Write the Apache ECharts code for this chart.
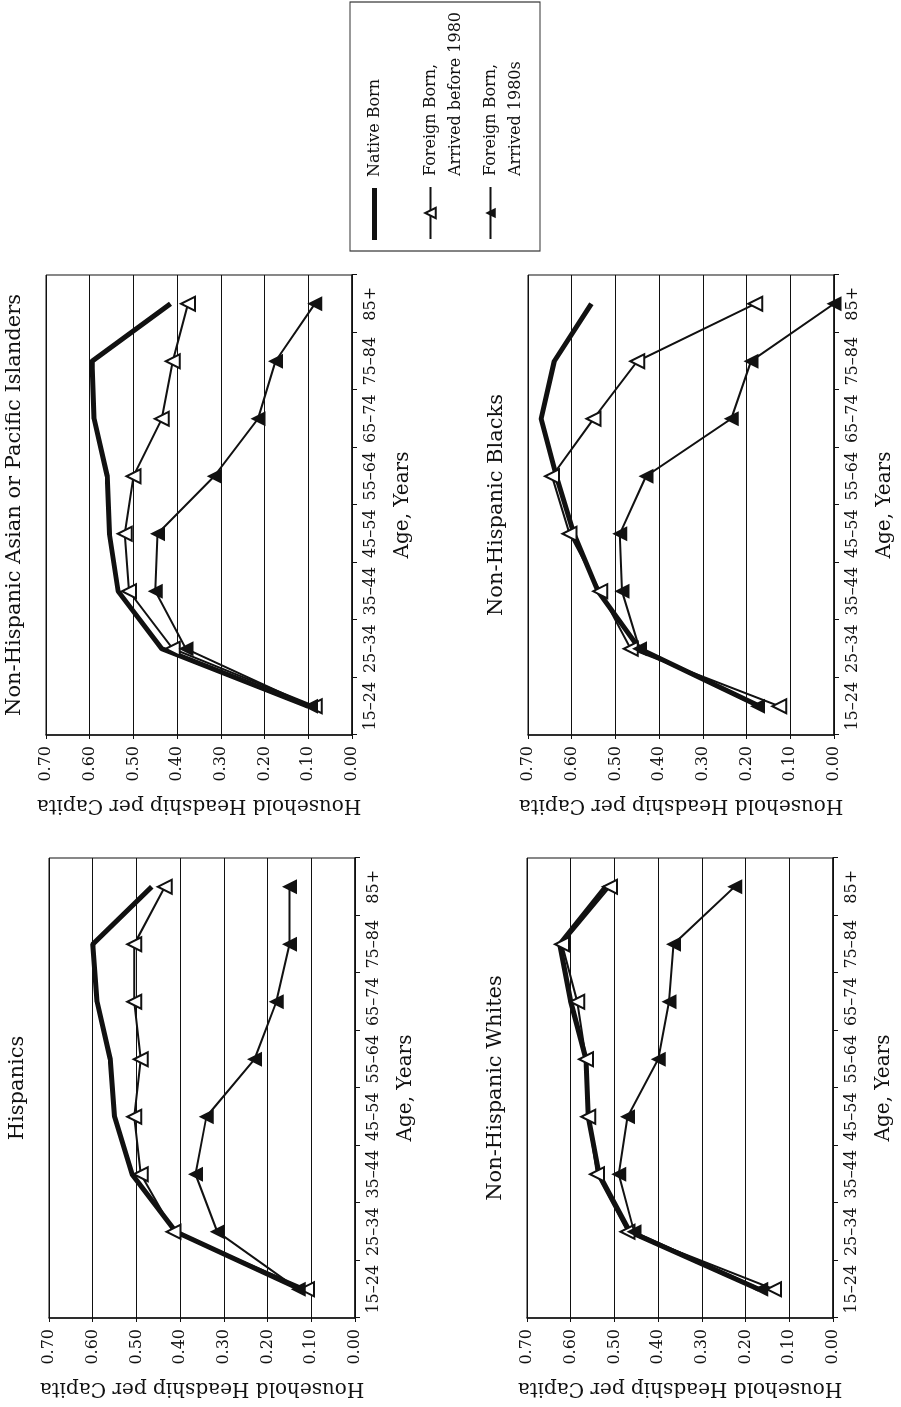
<!DOCTYPE html>
<html>
<head>
<meta charset="utf-8">
<title>Household Headship per Capita by Age</title>
<script src="https://cdn.jsdelivr.net/npm/echarts@6/dist/echarts.min.js"></script>
<style>
    html, body { margin: 0; padding: 0; background: #fff; overflow: hidden; }
    /* the page is printed sideways: draw it upright, then turn it a quarter left */
    #chart {
        position: absolute; left: 0; top: 0;
        width: 1407px; height: 901px;
        transform-origin: 0 0;
        transform: translate(0, 1407px) rotate(-90deg);
    }
</style>
</head>
<body>
<div id="chart"></div>
<script>
var ageGroups = ["15–24", "25–34", "35–44", "45–54", "55–64", "65–74", "75–84", "85+"];
var headshipMin = 0, headshipMax = 0.7, headshipStep = 0.1;

var nativeName = "Native Born";
var before1980Name = "Foreign Born,\nArrived before 1980";
var arrived1980sName = "Foreign Born,\nArrived 1980s";

var hispanicsNative = [0.125, 0.41, 0.51, 0.55, 0.56, 0.59, 0.60, 0.465];
var hispanicsBefore1980 = [0.11, 0.415, 0.49, 0.505, 0.49, 0.505, 0.505, 0.435];
var hispanics1980s = [0.13, 0.315, 0.365, 0.34, 0.23, 0.18, 0.15, 0.15];

var asianNative = [0.10, 0.435, 0.535, 0.555, 0.56, 0.59, 0.595, 0.415];
var asianBefore1980 = [0.085, 0.41, 0.51, 0.52, 0.50, 0.435, 0.41, 0.375];
var asian1980s = [0.095, 0.38, 0.45, 0.445, 0.315, 0.215, 0.175, 0.085];

var whitesNative = [0.17, 0.465, 0.535, 0.56, 0.565, 0.60, 0.625, 0.52];
var whitesBefore1980 = [0.135, 0.47, 0.54, 0.56, 0.565, 0.585, 0.62, 0.51];
var whites1980s = [0.165, 0.455, 0.49, 0.47, 0.40, 0.375, 0.365, 0.225];

var blacksNative = [0.17, 0.445, 0.54, 0.595, 0.635, 0.67, 0.64, 0.555];
var blacksBefore1980 = [0.125, 0.465, 0.535, 0.605, 0.645, 0.55, 0.45, 0.18];
var blacks1980s = [0.175, 0.445, 0.485, 0.49, 0.43, 0.235, 0.19, 0.0];

var font = "DejaVu Serif";
var ink = "#111";

var panels = [
    { title: "Hispanics", left: 89, top: 49, native: hispanicsNative, before: hispanicsBefore1980, recent: hispanics1980s },
    { title: "Non-Hispanic Asian or Pacific Islanders", left: 672, top: 46, native: asianNative, before: asianBefore1980, recent: asian1980s },
    { title: "Non-Hispanic Whites", left: 89, top: 527, native: whitesNative, before: whitesBefore1980, recent: whites1980s },
    { title: "Non-Hispanic Blacks", left: 672, top: 528, native: blacksNative, before: blacksBefore1980, recent: blacks1980s }
];
var gridWidth = 460, gridHeight = 306;

function $each(list, fn) {
    for (var k = 0; k < list.length; k++) fn(k, list[k]);
}

var titles = [], grids = [], xAxes = [], yAxes = [], series = [];

$each(panels, function(i, p) {
    titles.push({
        text: p.title,
        left: p.left + gridWidth / 2,
        top: p.top - 42,
        textAlign: "center",
        padding: 0,
        textStyle: { fontFamily: font, fontSize: 21, fontWeight: "normal", color: ink }
    });
    grids.push({
        left: p.left, top: p.top, width: gridWidth, height: gridHeight,
        show: true, borderColor: ink, borderWidth: 1
    });
    xAxes.push({
        gridIndex: i,
        type: "category",
        data: ageGroups,
        boundaryGap: true,
        axisLine: { lineStyle: { color: ink, width: 1.5 } },
        axisTick: { show: true, length: 5, lineStyle: { color: ink } },
        axisLabel: { interval: 0, color: ink, fontFamily: font, fontSize: 16, margin: 11 },
        name: "Age, Years",
        nameLocation: "middle",
        nameGap: 41,
        nameTextStyle: { fontFamily: font, fontSize: 20, color: ink }
    });
    yAxes.push({
        gridIndex: i,
        type: "value",
        min: headshipMin,
        max: headshipMax,
        interval: headshipStep,
        axisLine: { show: true, lineStyle: { color: ink, width: 1.5 } },
        axisTick: { show: true, length: 4, lineStyle: { color: ink } },
        axisLabel: {
            color: ink, fontFamily: font, fontSize: 16, margin: 11,
            formatter: function(v) { return v.toFixed(2); }
        },
        splitLine: { show: true, lineStyle: { color: ink, width: 1 } },
        name: "Household Headship per Capita",
        nameLocation: "middle",
        nameGap: 60,
        nameTextStyle: { fontFamily: font, fontSize: 20, color: ink }
    });

    series.push({
        type: "line", name: nativeName, xAxisIndex: i, yAxisIndex: i,
        data: p.native, symbol: "none", clip: false, z: 2,
        lineStyle: { color: ink, width: 5 },
        itemStyle: { color: ink }
    });
    series.push({
        type: "line", name: before1980Name, xAxisIndex: i, yAxisIndex: i,
        data: p.before, symbol: "triangle", symbolSize: 14, clip: false, z: 3,
        lineStyle: { color: ink, width: 2 },
        itemStyle: { color: "#fff", borderColor: ink, borderWidth: 2 }
    });
    series.push({
        type: "line", name: arrived1980sName, xAxisIndex: i, yAxisIndex: i,
        data: p.recent, symbol: "triangle", symbolSize: 15, clip: false, z: 4,
        lineStyle: { color: ink, width: 2 },
        itemStyle: { color: ink }
    });
});

// legend: one small legend per entry so each line sits where the print has it;
// the two-line names get an empty first line so the sample lines up with "Foreign Born,"
var legendText = { fontFamily: font, fontSize: 16, color: ink, lineHeight: 25, padding: [0, 0, 0, 6] };
var twoLine = function(name) { return "\n" + name; };
var legends = [
    { data: [{ name: nativeName, icon: "rect" }], left: 1167, top: 362, itemHeight: 5 },
    { data: [before1980Name], left: 1167, top: 393, itemHeight: 13, formatter: twoLine },
    { data: [arrived1980sName], left: 1167, top: 453, itemHeight: 13, formatter: twoLine }
];
$each(legends, function(i, l) {
    l.padding = 0;
    l.itemWidth = 52;
    l.selectedMode = false;
    l.textStyle = legendText;
});

var chart = echarts.init(document.getElementById("chart"));
chart.setOption({
    backgroundColor: "#fff",
    animation: false,
    title: titles,
    legend: legends,
    grid: grids,
    xAxis: xAxes,
    yAxis: yAxes,
    series: series,
    graphic: [{
        type: "rect",
        shape: { x: 1156, y: 350, width: 249, height: 190 },
        style: { fill: "none", stroke: "#333", lineWidth: 1.2 },
        silent: true
    }]
});
</script>
</body>
</html>
